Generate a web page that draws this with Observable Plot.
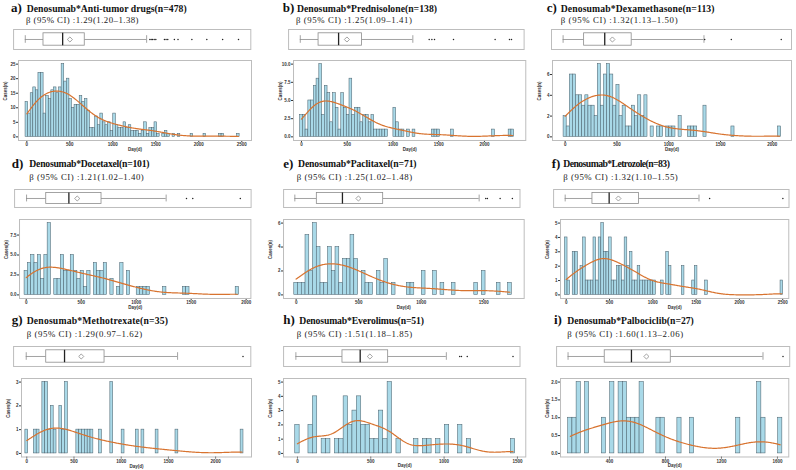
<!DOCTYPE html>
<html>
<head>
<meta charset="utf-8">
<script src="https://cdn.jsdelivr.net/npm/d3@7"></script>
<script src="https://cdn.jsdelivr.net/npm/@observablehq/plot@0.6"></script>
<style>
  html, body { margin: 0; padding: 0; background: #fff; }
  #chart { position: relative; width: 796px; height: 470px; overflow: hidden;
           font-family: "Liberation Serif", "Times New Roman", serif; color: #111; }
  .txt { position: absolute; white-space: nowrap; }
  .letter { font-weight: bold; font-size: 13px; line-height: 13px; }
  .title { font-weight: bold; font-size: 9.7px; line-height: 9.7px; }
  .sub { font-size: 8.8px; line-height: 8.8px; color: #222; }
  .piece { position: absolute; }
</style>
</head>
<body>
<div id="chart"></div>
<script>
// ---- data -------------------------------------------------------------
const binWidth = 30; // days per histogram bin, bins centred on multiples of 30

const letters = ["a)", "b)", "c)", "d)", "e)", "f)", "g)", "h)", "i)"];
const drugs = ["Anti-tumor drugs", "Prednisolone", "Dexamethasone", "Docetaxel", "Paclitaxel",
               "Letrozole", "Methotrexate", "Everolimus", "Palbociclib"];
const sizes = [478, 138, 113, 101, 71, 83, 35, 51, 27];
const betas = ["1.29(1.20–1.38)", "1.25(1.09–1.41)", "1.32(1.13–1.50)", "1.21(1.02–1.40)",
               "1.25(1.02–1.48)", "1.32(1.10–1.55)", "1.29(0.97–1.62)", "1.51(1.18–1.85)",
               "1.60(1.13–2.06)"];

// cases per 30-day bin (index k = bin centred on k*30 days)
const countsA = [12,8,15,17,16,22,22,8,14,13, 16,17,15,17,25,19,20,13,10,11, 11,14,12,13,9,3,3,7,4,8,
                 5,4,5,2,8,4,3,3,5,3, 4,2,2,2,1,2,5,1,3,3, 5,1,0,1,2,1,0,1,0,1,
                 0,0,0,0,1,0,0,0,0,1, 0,0,0,0,0,1,1,0,0,0, 0,0,1];
const countsB = [3,3,1,5,5,7,8,10,3,7, 6,2,6,4,1,6,4,3,8,3, 4,4,2,3,3,2,3,1,1,1,
                 1,1,0,0,4,2,1,1,0,1, 0,1,0,0,0,0,0,0,1,1, 1,0,0,0,0,1,0,0,0,0,
                 0,0,0,0,0,0,0,0,0,0, 1,0,0,0,0,0,1,1];
const countsC = [2,1,6,6,4,4,3,4,3,3, 2,7,3,6,7,6,3,5,2,3, 1,1,3,2,4,2,4,0,1,0,
                 1,1,0,1,1,1,0,2,0,0, 1,1,1,0,0,3,0,0,0,0, 0,0,0,0,1,0,0,0,0,0,
                 0,0,0,0,0,0,0,0,0,1];
const countsD = [3,4,5,4,5,2,5,9,0,2, 2,5,3,3,5,3,2,3,1,3, 0,4,3,3,4,0,2,0,1,4,
                 0,3,0,0,1,1,1,1,0,0, 0,0,1,0,0,0,0,0,1,1, 0,0,0,0,0,0,0,0,0,0,
                 0,0,0,0,1];
const countsE = [1,1,1,5,2,6,4,1,1,4, 2,4,1,3,3,5,3,0,2,1, 1,0,2,1,3,0,1,0,0,0,
                 1,1,0,0,2,0,0,2,0,1, 0,0,1,0,0,0,0,0,1,0, 2,0,0,0,1,0,0,1];
const countsF = [4,1,0,3,3,0,2,4,1,1, 1,4,1,4,5,3,3,4,1,1, 2,2,1,4,2,3,1,1,2,1,
                 1,1,1,1,1,0,0,1,0,3, 2,0,0,0,0,2,0,0,0,1, 2,0,0,0,1,0,0,0,0,0,
                 0,0,0,0,0,0,0,0,0,0, 0,0,0,0,0,0,0,0,0,0, 0,0,0,1];
const countsG = [1,0,0,1,1,0,3,3,1,2, 1,0,2,1,3,0,0,0,1,1, 1,1,1,1,0,0,1,0,0,0,
                 3,0,0,0,1,0,0,0,0,1, 0,1,0,0,0,0,1,0,0,0, 0,0,0,1,0,0,0,0,0,0,
                 0,0,0,0,0,0,0,0,0,0, 0,0,0,0,0,0,1];
const countsH = [2,0,0,2,4,0,1,1,0,1, 1,4,2,3,4,2,2,1,1,3, 1,5,0,1,0,0,0,1,0,1,
                 1,0,1,0,2,0,0,2,0,1, 0,0,0,0,0,0,0,0,0,1];
const countsI = [0,0,0,0,1,1,2,0,2,0, 0,0,1,0,2,0,2,2,1,1, 1,2,0,0,0,1,1,0,0,0,
                 1,0,0,1,0,0,0,0,0,0, 0,0,0,0,1,0,0,0,0,2, 1,0,0,0,1];

// box plot summaries in days: [lower whisker, Q1, median, Q3, upper whisker, mean]
const boxA = [0, 212, 435, 692, 1412, 519];
const boxB = [0, 200, 419, 674, 1231, 510];
const boxC = [0, 203, 402, 662, 1360, 476];
const boxD = [0, 179, 385, 682, 1270, 461];
const boxE = [0, 176, 381, 707, 1475, 509];
const boxF = [0, 315, 508, 854, 1546, 615];
const boxG = [0, 212, 406, 830, 1604, 583];
const boxH = [0, 318, 439, 630, 1027, 505];
const boxI = [102, 364, 555, 836, 1495, 662];

// outlying durations (days)
const outA = [1450,1465,1481,1500,1519,1619,1638,1658,1735,1777,1938,2112,2296,2481];
const outB = [1410,1439,1468,1676,2131,2288,2310];
const outC = [1367,1624,2106];
const outD = [1455,1512,1945];
const outE = [1528,1541,1643,1741];
const outF = [1669,2515];
const outG = [2297];
const outH = [1118,1130,1170,1482];
const outI = [1638];

// axis tick values
const xTicksA = [0,500,1000,1500,2000,2500];
const xTicksB = [0,500,1000,1500,2000];
const xTicksC = [0,500,1000,1500,2000];
const xTicksD = [0,500,1000,1500,2000];
const xTicksE = [0,500,1000,1500];
const xTicksF = [0,500,1000,1500,2000,2500];
const xTicksG = [0,500,1000,1500,2000];
const xTicksH = [0,500,1000,1500];
const xTicksI = [400,800,1200,1600];
const yTicksA = [0,5,10,15,20,25];
const yTicksB = [0,2.5,5,7.5,10];
const yTicksC = [0,2,4,6];
const yTicksD = [0,2.5,5,7.5];
const yTicksE = [0,2,4,6];
const yTicksF = [0,1,2,3,4,5];
const yTicksG = [0,1,2,3];
const yTicksH = [0,1,2,3,4,5];
const yTicksI = [0,0.5,1,1.5,2];

// ---- layout -----------------------------------------------------------
const rowTitle = [12, 167.5, 324];   // title baselines per row
const rowSub = [23, 180.5, 337];     // subtitle baselines per row

// smooth: bandwidth multiplier for the density curve
const panels = [
  {counts: countsA, box: boxA, out: outA, xt: xTicksA, yt: yTicksA, yf: "d", smooth: 1.7,
   row: 0, letterX: 11, titleX: 26.7, titleW: 160, subX: 26, subW: 113,
   boxR: [13.3, 250.7, 28.7, 48.7], histR: [17.7, 250.7, 60, 140], boxDom: [-136, 2624], histDom: [-97, 2613]},
  {counts: countsB, box: boxB, out: outB, xt: xTicksB, yt: yTicksB, yf: ".1f", smooth: 1.4,
   row: 0, letterX: 282.7, titleX: 297, titleW: 140, subX: 296, subW: 116.5,
   boxR: [288.3, 524, 28.7, 48.7], histR: [292.7, 525, 60, 140], boxDom: [-128, 2448], histDom: [-87, 2452]},
  {counts: countsC, box: boxC, out: outC, xt: xTicksC, yt: yTicksC, yf: "d", smooth: 1.35,
   row: 0, letterX: 546.7, titleX: 560.7, titleW: 154, subX: 560.7, subW: 117.5,
   boxR: [550.7, 790.7, 28.7, 48.7], histR: [551.7, 790.7, 60, 140], boxDom: [-112, 2205], histDom: [-122, 2185]},
  {counts: countsD, box: boxD, out: outD, xt: xTicksD, yt: yTicksD, yf: ".1f", smooth: 1.15,
   row: 1, letterX: 11.7, titleX: 29.3, titleW: 120, subX: 29.3, subW: 115,
   boxR: [14, 250.7, 189.3, 207.3], histR: [19.3, 250.7, 219, 298], boxDom: [-109, 2043], histDom: [-61, 2043]},
  {counts: countsE, box: boxE, out: outE, xt: xTicksE, yt: yTicksE, yf: "d", smooth: 1.1,
   row: 1, letterX: 283.3, titleX: 298, titleW: 118.5, subX: 296.7, subW: 116,
   boxR: [282.7, 519.3, 189.3, 207.3], histR: [283.3, 524, 219, 298], boxDom: [-90, 1802], histDom: [-101, 1824]},
  {counts: countsF, box: boxF, out: outF, xt: xTicksF, yt: yTicksF, yf: "d", smooth: 1.1,
   row: 1, letterX: 551.7, titleX: 563.3, titleW: 106, subX: 563.3, subW: 115,
   boxR: [552.7, 788.3, 189.3, 207.3], histR: [560, 788.3, 219, 298], boxDom: [-134, 2586], histDom: [-66, 2570]},
  {counts: countsG, box: boxG, out: outG, xt: xTicksG, yt: yTicksG, yf: "d", smooth: 1,
   row: 2, letterX: 11.7, titleX: 26.7, titleW: 141.5, subX: 26.7, subW: 116,
   boxR: [13.3, 250.7, 345.7, 365.7], histR: [20.7, 250.7, 377.5, 456], boxDom: [-134, 2380], histDom: [-56, 2380]},
  {counts: countsH, box: boxH, out: outH, xt: xTicksH, yt: yTicksH, yf: "d", smooth: 1,
   row: 2, letterX: 283.3, titleX: 299.3, titleW: 124.5, subX: 296.7, subW: 116,
   boxR: [282.7, 519.3, 345.7, 365.7], histR: [282.7, 525, 377.5, 456], boxDom: [-84, 1530], histDom: [-95, 1557]},
  {counts: countsI, box: boxI, out: outI, xt: xTicksI, yt: yTicksI, yf: ".1f", smooth: 1,
   row: 2, letterX: 554, titleX: 567.3, titleW: 126.5, subX: 567.3, subW: 116.5,
   boxR: [556, 789.3, 345.7, 365.7], histR: [560, 788.3, 377.5, 456], boxDom: [20, 1686], histDom: [50, 1681]}
];

const BAR_FILL = "#a9d9e8", BAR_STROKE = "#4d6571", CURVE = "#d8732f";
const FRAME = "#bdbdbd", BOX_LINE = "#8c8c8c";
const axisFont = {fontSize: "4.5px", fontFamily: "'Liberation Sans', Arial, sans-serif",
                  fontWeight: "bold", color: "#333", background: "transparent", overflow: "visible"};

const chart = document.getElementById("chart");

// place a text line by its baseline and stretch its tracking to the wanted width
function addText(cls, str, x, baseline, size, width) {
  const el = document.createElement("div");
  el.className = "txt " + cls;
  el.textContent = str;
  el.style.left = x + "px";
  el.style.top = (baseline - 0.8375 * size) + "px";
  chart.appendChild(el);
  if (width) {
    const w = el.getBoundingClientRect().width;
    el.style.letterSpacing = ((width - w) / str.length) + "px";
  }
}

function addNode(node, x, y) {
  node.classList.add("piece");
  node.style.left = x + "px";
  node.style.top = y + "px";
  chart.appendChild(node);
}

// Gaussian kernel density of the binned durations, expressed in cases per bin
// (bandwidth from Silverman's rule of thumb, as in R's bw.nrd0, times an adjust factor)
function densityCurve(counts, adjust) {
  const pts = [];
  counts.forEach((c, k) => { if (c > 0) pts.push([k * binWidth, c]); });
  const values = pts.flatMap(([x, c]) => Array(c).fill(x));
  const n = values.length;
  const sd = d3.deviation(values);
  const iqr = d3.quantile(values, 0.75) - d3.quantile(values, 0.25);
  const bw = 0.9 * Math.min(sd, iqr / 1.34) * Math.pow(n, -0.2) * adjust;
  const lo = d3.min(values), hi = d3.max(values);
  return d3.range(0, 241).map(i => {
    const x = lo + (hi - lo) * i / 240;
    const y = d3.sum(pts, ([xk, c]) =>
      c * binWidth / bw * Math.exp(-0.5 * ((x - xk) / bw) ** 2) / Math.sqrt(2 * Math.PI));
    return {x, y};
  });
}

function histogram(p) {
  const [x0, x1, y0, y1] = p.histR;
  const ml = 16, mr = 2, mt = 2, mb = 14;
  const bars = p.counts
    .map((c, k) => ({x1: k * binWidth - binWidth / 2, x2: k * binWidth + binWidth / 2, y: c}))
    .filter(d => d.y > 0);
  const ymax = d3.max(p.counts);
  return Plot.plot({
    width: x1 - x0 + ml + mr, height: y1 - y0 + mt + mb,
    marginLeft: ml, marginRight: mr, marginTop: mt, marginBottom: mb,
    style: axisFont,
    x: {domain: p.histDom, ticks: p.xt, tickFormat: d3.format("d"), tickSize: 2, tickPadding: 0.5, label: null},
    y: {domain: [-0.05 * ymax, 1.05 * ymax], ticks: p.yt, tickFormat: d3.format(p.yf),
        tickSize: 2, tickPadding: 1, label: null},
    marks: [
      Plot.rect(bars, {x1: "x1", x2: "x2", y1: 0, y2: "y", fill: BAR_FILL,
                       stroke: BAR_STROKE, strokeWidth: 0.55}),
      Plot.line(densityCurve(p.counts, p.smooth), {x: "x", y: "y", stroke: CURVE, strokeWidth: 1.2}),
      Plot.frame({stroke: FRAME, strokeWidth: 1}),
      Plot.text(["Day(d)"], {text: d => d, frameAnchor: "bottom", dy: 10.5, fill: "#333"}),
      Plot.text(["Cases(n)"], {text: d => d, frameAnchor: "left", dx: -12.5, rotate: -90, fill: "#333"})
    ]
  });
}

function boxplot(p) {
  const [x0, x1, y0, y1] = p.boxR;
  const [lo, q1, med, q3, hi, mean] = p.box;
  const s = {lo, q1, med, q3, hi, mean};
  return Plot.plot({
    width: x1 - x0 + 2, height: y1 - y0 + 2, margin: 1,
    style: {background: "transparent", overflow: "visible"},
    x: {domain: p.boxDom, axis: null},
    y: {domain: [-1, 1], axis: null},
    marks: [
      Plot.frame({stroke: FRAME, strokeWidth: 1}),
      Plot.ruleY([s], {y: 0, x1: "lo", x2: "q1", stroke: BOX_LINE, strokeWidth: 0.8}),
      Plot.ruleY([s], {y: 0, x1: "q3", x2: "hi", stroke: BOX_LINE, strokeWidth: 0.8}),
      Plot.ruleX([s.lo, s.hi], {x: d => d, y1: -0.38, y2: 0.38, stroke: BOX_LINE, strokeWidth: 0.8}),
      Plot.rect([s], {x1: "q1", x2: "q3", y1: -0.62, y2: 0.62, fill: "white",
                      stroke: BOX_LINE, strokeWidth: 0.8}),
      Plot.ruleX([s], {x: "med", y1: -0.62, y2: 0.62, stroke: "#222", strokeWidth: 1.3}),
      Plot.dot([s], {x: "mean", y: 0, symbol: "diamond2", r: 2.3, stroke: "#8a8a8a",
                     strokeWidth: 0.8, fill: "white"}),
      Plot.dot(p.out, {x: d => d, y: 0, r: 0.75, fill: "#222", stroke: null})
    ]
  });
}

panels.forEach((p, i) => {
  addText("letter", letters[i], p.letterX, rowTitle[p.row], 13);
  addText("title", `Denosumab*${drugs[i]}(n=${sizes[i]})`, p.titleX, rowTitle[p.row], 9.7, p.titleW);
  addText("sub", `β (95% CI) :${betas[i]}`, p.subX, rowSub[p.row], 8.8, p.subW);
  addNode(boxplot(p), p.boxR[0] - 1, p.boxR[2] - 1);
  addNode(histogram(p), p.histR[0] - 16, p.histR[2] - 2);
});
</script>
</body>
</html>
